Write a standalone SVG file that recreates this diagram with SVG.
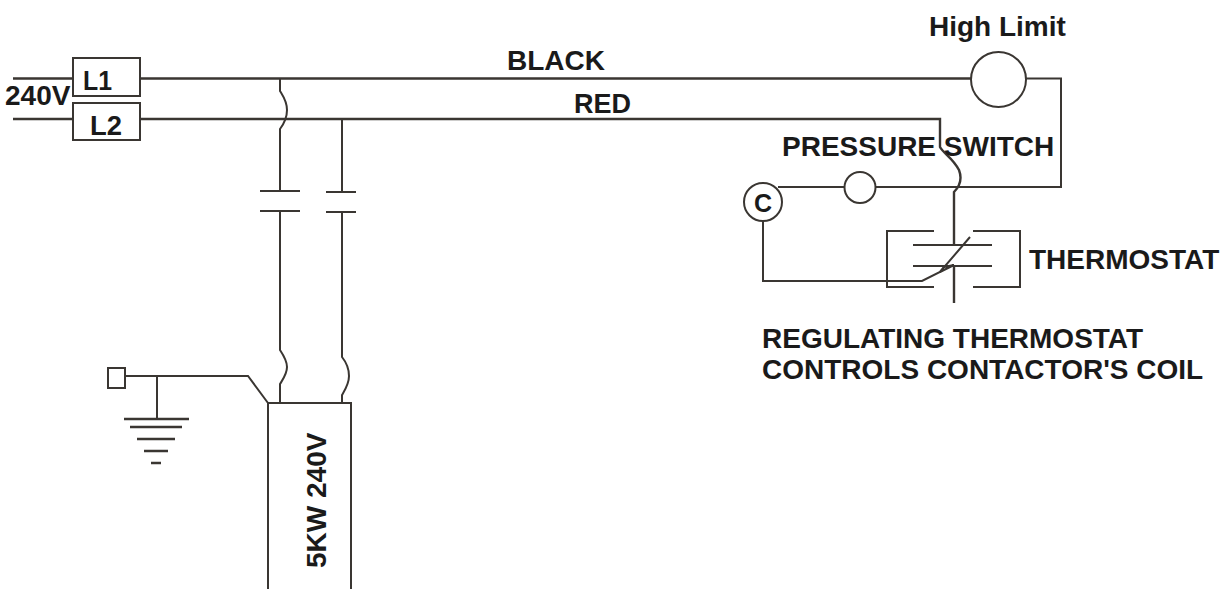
<svg xmlns="http://www.w3.org/2000/svg" width="1231" height="589" viewBox="0 0 1231 589">
<style>
.w{fill:none;stroke:#3a3632;stroke-width:2}
.h{fill:none;stroke:#3a3632;stroke-width:2.4}
.b{fill:#fff;stroke:#3a3632;stroke-width:2}
text{font-family:"Liberation Sans",Arial,sans-serif;font-weight:700;fill:#1a1a1a;font-size:28px}
</style>
<rect width="1231" height="589" fill="#fff"/>
<g id="connectors">
<path class="h" d="M13 78.5H73M141 78.5H972M13 119H73M141 119H940V147C943 153 953 158 959 170C962 178 960 186 954 192V246M954 266V303"/>
<path class="w" d="M1026 78.5H1061V187H876M844 187H778M763 221V281H922L940 272L970 237"/>
<path class="w" d="M940 272L954 265L944 267Z"/>
<path class="w" d="M280 78V91C283 96 287 101 287 110C287 119 283 125 280 129V191M280 211V350C284 356 287 361 287 367C287 374 283 379 280 384V403"/>
<path class="w" d="M342 119V192M342 212V357C346 362 349 368 349 376C349 384 345 390 342 395V403"/>
<path class="w" d="M125 376H248L268 403M157 376V419"/>
</g>
<g id="l1"><rect class="b" x="73" y="58" width="67" height="38"/><text x="83" y="90" textLength="29" lengthAdjust="spacingAndGlyphs">L1</text></g>
<g id="l2"><rect class="b" x="73" y="103" width="67" height="37"/><text x="90" y="135" textLength="32" lengthAdjust="spacingAndGlyphs">L2</text></g>
<text id="v240" x="5" y="105">240V</text>
<text id="black" x="507" y="70">BLACK</text>
<text id="red" x="574" y="113" textLength="57" lengthAdjust="spacingAndGlyphs">RED</text>
<g id="contact1"><path class="w" d="M260 191H300M260 211H300"/></g>
<g id="contact2"><path class="w" d="M326 192H356M326 212H356"/></g>
<g id="high-limit"><circle class="b" cx="998.5" cy="79.5" r="27.5"/><text x="929" y="36">High Limit</text></g>
<g id="pressure-switch"><circle class="b" cx="860" cy="187.5" r="15.5"/><text x="782" y="156">PRESSURE SWITCH</text></g>
<g id="coil"><circle class="b" cx="763" cy="202" r="19"/><text x="754" y="212" style="font-size:25px">C</text></g>
<g id="thermostat"><path class="w" d="M934 231H887V287H934M973 231H1020V287H973M913 245H992M913 266H992"/><text x="1029" y="269">THERMOSTAT</text></g>
<g id="note"><text x="762" y="348">REGULATING THERMOSTAT</text><text x="762" y="379">CONTROLS CONTACTOR'S COIL</text></g>
<g id="ground"><rect class="b" x="108" y="368" width="17" height="20"/><path class="h" d="M124 419H189M130 427H182M137 439H175M144 451H168M151 463H161"/></g>
<g id="heater"><path class="b" d="M268 589V403H351V589"/><text transform="translate(326 568) rotate(-90)">5KW 240V</text></g>
</svg>
